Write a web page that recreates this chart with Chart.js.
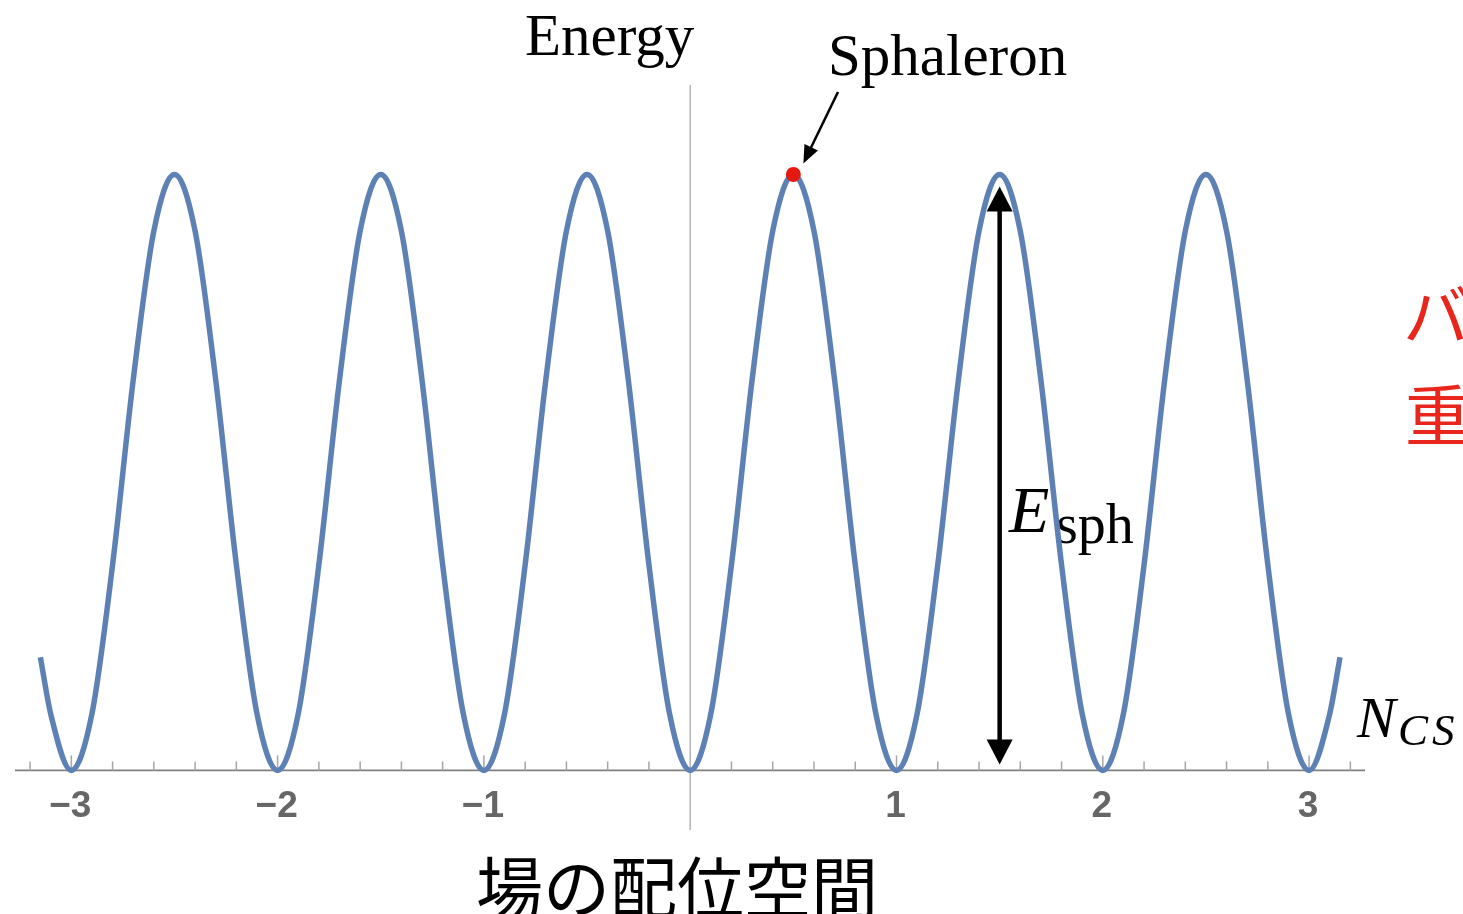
<!DOCTYPE html>
<html>
<head>
<meta charset="utf-8">
<script src="https://cdn.jsdelivr.net/npm/chart.js@4.4.0/dist/chart.umd.min.js"></script>
<style>
  html, body { margin: 0; padding: 0; background: #ffffff; overflow: hidden; }
  canvas { display: block; }
</style>
</head>
<body>
<canvas id="chart" width="1463" height="914"></canvas>
<script>
// Chern-Simons number along the horizontal axis
const nCs = [
  -3.15, -3.1,
  -3.0, -2.9, -2.8, -2.7, -2.6, -2.5, -2.4, -2.3, -2.2, -2.1,
  -2.0, -1.9, -1.8, -1.7, -1.6, -1.5, -1.4, -1.3, -1.2, -1.1,
  -1.0, -0.9, -0.8, -0.7, -0.6, -0.5, -0.4, -0.3, -0.2, -0.1,
   0.0,  0.1,  0.2,  0.3,  0.4,  0.5,  0.6,  0.7,  0.8,  0.9,
   1.0,  1.1,  1.2,  1.3,  1.4,  1.5,  1.6,  1.7,  1.8,  1.9,
   2.0,  2.1,  2.2,  2.3,  2.4,  2.5,  2.6,  2.7,  2.8,  2.9,
   3.0,  3.1, 3.15
];
// Vacuum energy (in units of E_sph) at each N_CS
const energy = [
  0.19, 0.095,
  0, 0.095, 0.345, 0.655, 0.905, 1, 0.905, 0.655, 0.345, 0.095,
  0, 0.095, 0.345, 0.655, 0.905, 1, 0.905, 0.655, 0.345, 0.095,
  0, 0.095, 0.345, 0.655, 0.905, 1, 0.905, 0.655, 0.345, 0.095,
  0, 0.095, 0.345, 0.655, 0.905, 1, 0.905, 0.655, 0.345, 0.095,
  0, 0.095, 0.345, 0.655, 0.905, 1, 0.905, 0.655, 0.345, 0.095,
  0, 0.095, 0.345, 0.655, 0.905, 1, 0.905, 0.655, 0.345, 0.095,
  0, 0.095, 0.19
];
// Sphaleron: top of the barrier between the 0 and 1 vacua
const sphaleronN = [0.5];
const sphaleronE = [1];
// Barrier height arrow, drawn at N_CS = 1.5 from E = 0 to E = 1
const barrierN = 1.5;
const barrierE = [0, 1];

// Axis ticks
const tickValues = [-3, -2, -1, 1, 2, 3];
const tickLabels = ['\u22123', '\u22122', '\u22121', '1', '2', '3'];
const minorTickStep = 0.2;

const curvePoints = nCs.map((n, i) => ({ x: n, y: energy[i] }));
const sphaleronPoints = sphaleronN.map((n, i) => ({ x: n, y: sphaleronE[i] }));

function arrowHead(ctx, tipX, tipY, dirX, dirY, len, halfW) {
  const bx = tipX - dirX * len, by = tipY - dirY * len;
  const px = -dirY, py = dirX;
  ctx.beginPath();
  ctx.moveTo(tipX, tipY);
  ctx.lineTo(bx + px * halfW, by + py * halfW);
  ctx.lineTo(bx - px * halfW, by - py * halfW);
  ctx.closePath();
  ctx.fill();
}

const axesPlugin = {
  id: 'axesAndNotes',
  beforeDatasetsDraw(chart) {
    const { ctx, chartArea, scales } = chart;
    const xs = scales.x, ys = scales.y;
    const y0 = ys.getPixelForValue(0);
    const x0 = xs.getPixelForValue(0);
    ctx.save();

    // vertical energy axis
    ctx.strokeStyle = '#b3b3b3';
    ctx.lineWidth = 1.5;
    ctx.beginPath();
    ctx.moveTo(x0, chartArea.top);
    ctx.lineTo(x0, chartArea.bottom);
    ctx.stroke();

    // horizontal N_CS axis
    ctx.strokeStyle = '#808080';
    ctx.lineWidth = 1.6;
    ctx.beginPath();
    ctx.moveTo(chartArea.left, y0);
    ctx.lineTo(chartArea.right, y0);
    ctx.stroke();

    // minor ticks
    ctx.strokeStyle = '#a6a6a6';
    ctx.lineWidth = 1.5;
    for (let k = -16; k <= 16; k++) {
      const v = k * minorTickStep;
      if (k % 5 === 0) continue;
      const px = xs.getPixelForValue(v);
      if (px < chartArea.left || px > chartArea.right) continue;
      ctx.beginPath();
      ctx.moveTo(px, y0);
      ctx.lineTo(px, y0 - 9);
      ctx.stroke();
    }
    // major ticks and labels
    ctx.fillStyle = '#666666';
    ctx.font = 'bold 37px "Liberation Sans", Arial, sans-serif';
    ctx.textAlign = 'center';
    ctx.textBaseline = 'alphabetic';
    tickValues.forEach((v, i) => {
      const px = xs.getPixelForValue(v);
      ctx.beginPath();
      ctx.moveTo(px, y0);
      ctx.lineTo(px, y0 - 15);
      ctx.stroke();
      ctx.fillText(tickLabels[i], px - 1, 817);
    });

    // E_sph label
    ctx.fillStyle = '#000000';
    ctx.textAlign = 'left';
    ctx.font = 'italic 66px "Liberation Serif", "DejaVu Serif", serif';
    ctx.fillText('E', 1009, 532);
    ctx.font = '56px "Liberation Serif", "DejaVu Serif", serif';
    ctx.fillText('sph', 1056, 543);
    ctx.restore();
  },
  afterDatasetsDraw(chart) {
    const { ctx, scales } = chart;
    const xs = scales.x, ys = scales.y;
    ctx.save();
    ctx.fillStyle = '#000000';
    ctx.strokeStyle = '#000000';

    // double-headed arrow for the barrier height
    const ax = xs.getPixelForValue(barrierN);
    const yBot = ys.getPixelForValue(barrierE[0]) - 6;
    const yTop = ys.getPixelForValue(barrierE[1]) + 12;
    ctx.lineWidth = 4.5;
    ctx.beginPath();
    ctx.moveTo(ax, yTop + 20);
    ctx.lineTo(ax, yBot - 20);
    ctx.stroke();
    arrowHead(ctx, ax, yTop, 0, -1, 25, 13);
    arrowHead(ctx, ax, yBot, 0, 1, 25, 13);

    // pointer to the sphaleron
    const sx = xs.getPixelForValue(sphaleronN[0]);
    const sy = ys.getPixelForValue(sphaleronE[0]);
    const fromX = 838, fromY = 92;
    const tipX = sx + 10, tipY = sy - 11;
    const dx = tipX - fromX, dy = tipY - fromY;
    const L = Math.hypot(dx, dy);
    const ux = dx / L, uy = dy / L;
    ctx.lineWidth = 2.5;
    ctx.beginPath();
    ctx.moveTo(fromX, fromY);
    ctx.lineTo(tipX - ux * 14, tipY - uy * 14);
    ctx.stroke();
    arrowHead(ctx, tipX, tipY, ux, uy, 18, 7.5);

    // texts
    ctx.textAlign = 'left';
    ctx.textBaseline = 'alphabetic';
    ctx.font = '59px "Liberation Serif", "DejaVu Serif", serif';
    ctx.fillText('Energy', 525, 55);
    ctx.fillText('Sphaleron', 828, 75);

    ctx.font = 'italic 58px "Liberation Serif", "DejaVu Serif", serif';
    ctx.fillText('N', 1357, 737);
    ctx.font = 'italic 45px "Liberation Serif", "DejaVu Serif", serif';
    ctx.letterSpacing = '4px';
    ctx.fillText('CS', 1398, 745);
    ctx.letterSpacing = '0px';

    ctx.font = '67px "Noto Sans CJK JP", sans-serif';
    ctx.fillText('場の配位空間', 476, 913);

    ctx.fillStyle = '#e8261c';
    ctx.font = '66px "Noto Sans CJK JP", sans-serif';
    ctx.fillText('バ', 1403, 340);
    ctx.fillText('重', 1405, 440);
    ctx.restore();
  }
};

new Chart(document.getElementById('chart'), {
  type: 'line',
  data: {
    datasets: [
      {
        label: 'Energy',
        data: curvePoints,
        borderColor: '#5e81b5',
        borderWidth: 5.5,
        pointRadius: 0,
        fill: false,
        cubicInterpolationMode: 'monotone',
        order: 2
      },
      {
        label: 'Sphaleron',
        data: sphaleronPoints,
        showLine: false,
        pointRadius: 7.5,
        pointBorderWidth: 0,
        pointBackgroundColor: '#e6190f',
        pointBorderColor: '#e6190f',
        order: 1
      }
    ]
  },
  options: {
    responsive: false,
    devicePixelRatio: 1,
    animation: false,
    layout: { padding: { left: 15, right: 98, top: 85, bottom: 84 } },
    plugins: { legend: { display: false }, tooltip: { enabled: false } },
    scales: {
      x: { type: 'linear', min: -3.273, max: 3.271, display: false },
      y: { type: 'linear', min: -0.1, max: 1.15, display: false }
    },
    clip: false
  },
  plugins: [axesPlugin]
});
</script>
</body>
</html>
